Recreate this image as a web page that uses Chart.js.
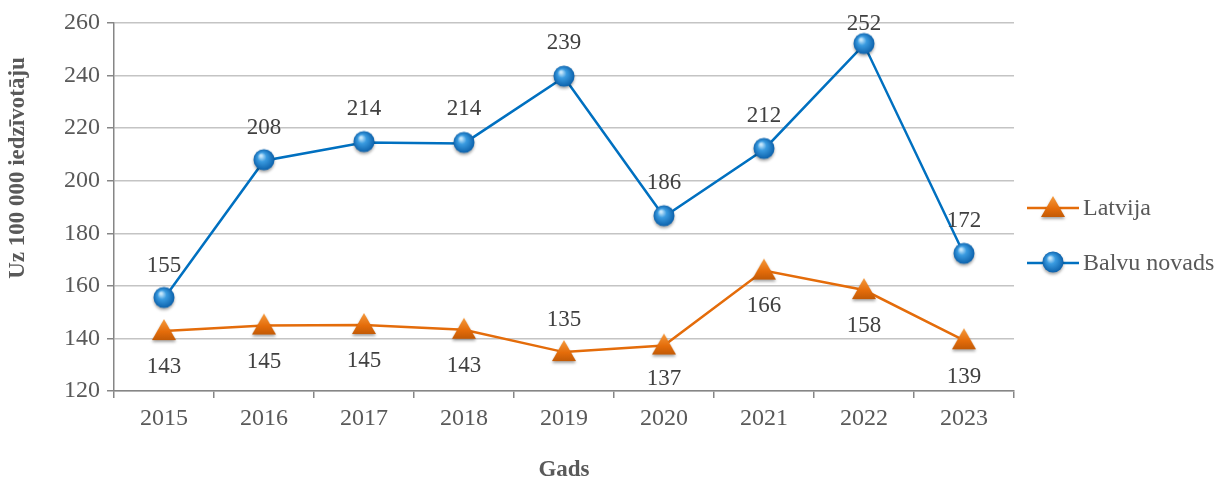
<!DOCTYPE html>
<html>
<head>
<meta charset="utf-8">
<script src="https://cdn.jsdelivr.net/npm/chart.js@4"></script>
<style>
  html, body { margin: 0; padding: 0; background: #fff; }
  #wrap { width: 1216px; height: 479px; }
</style>
</head>
<body>
<div id="wrap"><canvas id="myChart" width="1216" height="479"></canvas></div>
<script>
const years = ["2015", "2016", "2017", "2018", "2019", "2020", "2021", "2022", "2023"];
const latvija = [142.8, 144.9, 145.1, 143.3, 134.8, 137.3, 165.8, 158.4, 139.3];
const balvu = [155.2, 207.6, 214.5, 214.2, 239.4, 186.3, 211.9, 251.8, 172.0];
const latvijaLabels = [143, 145, 145, 143, 135, 137, 166, 158, 139];
const balvuLabels = [155, 208, 214, 214, 239, 186, 212, 252, 172];
const yTicks = [120, 140, 160, 180, 200, 220, 240, 260];

const FONT = "'Liberation Serif', 'Times New Roman', serif";
const TEXT = "#595959";

function makeSphere() {
    const c = document.createElement('canvas');
    c.width = 30; c.height = 30;
    const g = c.getContext('2d');
    g.shadowColor = 'rgba(0,0,0,0.35)';
    g.shadowBlur = 3;
    g.shadowOffsetY = 2;
    const grad = g.createRadialGradient(12, 10, 1, 15, 14, 11);
    grad.addColorStop(0, '#c4e6fb');
    grad.addColorStop(0.35, '#3a9be0');
    grad.addColorStop(1, '#0a5ea8');
    g.fillStyle = grad;
    g.beginPath();
    g.arc(15, 14, 10.5, 0, Math.PI * 2);
    g.fill();
    return c;
}

function makeTriangle() {
    const c = document.createElement('canvas');
    c.width = 30; c.height = 30;
    const g = c.getContext('2d');
    g.shadowColor = 'rgba(0,0,0,0.35)';
    g.shadowBlur = 3;
    g.shadowOffsetY = 2;
    const grad = g.createLinearGradient(0, 3, 0, 24);
    grad.addColorStop(0, '#f59a3c');
    grad.addColorStop(0.6, '#e46c0a');
    grad.addColorStop(1, '#c25a06');
    g.fillStyle = grad;
    g.beginPath();
    g.moveTo(15, 3);
    g.lineTo(27, 24);
    g.lineTo(3, 24);
    g.closePath();
    g.fill();
    return c;
}

const sphere = makeSphere();
const triangle = makeTriangle();

const valueLabels = {
    id: 'valueLabels',
    afterDatasetsDraw(chart) {
        const ctx = chart.ctx;
        ctx.save();
        ctx.font = "23px " + FONT;
        ctx.fillStyle = "#404040";
        ctx.textAlign = 'center';
        ctx.textBaseline = 'middle';
        const sets = [
            { idx: 0, labels: latvijaLabels, off: [36, 36, 36, 36, -32, 33, 35, 36, 37] },
            { idx: 1, labels: balvuLabels, off: [-33, -33, -34, -34, -34, -34, -33, -21, -33] }
        ];
        sets.forEach(s => {
            const meta = chart.getDatasetMeta(s.idx);
            meta.data.forEach((pt, i) => {
                ctx.fillText(String(s.labels[i]), pt.x, pt.y + s.off[i]);
            });
        });
        ctx.restore();
    }
};

const sideLegend = {
    id: 'sideLegend',
    afterDraw(chart) {
        const ctx = chart.ctx;
        ctx.save();
        const items = [
            { text: 'Latvija', color: '#e46c0a', img: triangle, y: 208 },
            { text: 'Balvu novads', color: '#0070c0', img: sphere, y: 263 }
        ];
        items.forEach(it => {
            ctx.strokeStyle = it.color;
            ctx.lineWidth = 2.5;
            ctx.beginPath();
            ctx.moveTo(1027, it.y);
            ctx.lineTo(1079, it.y);
            ctx.stroke();
            ctx.drawImage(it.img, 1053 - it.img.width / 2, it.y - it.img.height / 2);
            ctx.font = "24px " + FONT;
            ctx.fillStyle = TEXT;
            ctx.textAlign = 'left';
            ctx.textBaseline = 'middle';
            ctx.fillText(it.text, 1083, it.y + 1);
        });
        // y axis title
        ctx.translate(18, 168);
        ctx.rotate(-Math.PI / 2);
        ctx.font = "bold 23px " + FONT;
        ctx.fillStyle = TEXT;
        ctx.textAlign = 'center';
        ctx.textBaseline = 'middle';
        ctx.fillText('Uz 100 000 iedzīvotāju', 0, 0);
        ctx.restore();
    }
};

const chart = new Chart(document.getElementById('myChart'), {
    type: 'line',
    data: {
        labels: years,
        datasets: [
            {
                label: 'Latvija',
                data: latvija,
                borderColor: '#e46c0a',
                borderWidth: 2.5,
                pointStyle: triangle,
                pointRadius: 12,
                tension: 0
            },
            {
                label: 'Balvu novads',
                data: balvu,
                borderColor: '#0070c0',
                borderWidth: 2.5,
                pointStyle: sphere,
                pointRadius: 12,
                tension: 0
            }
        ]
    },
    options: {
        responsive: false,
        animation: false,
        layout: { padding: { left: 0, right: 202, top: 23, bottom: 0 } },
        plugins: {
            legend: { display: false },
            tooltip: { enabled: false }
        },
        scales: {
            x: {
                offset: true,
                grid: {
                    offset: true,
                    drawOnChartArea: false,
                    drawTicks: true,
                    tickLength: 7,
                    color: '#868686',
                    lineWidth: 1.5
                },
                border: { color: '#868686', width: 1.5 },
                ticks: {
                    color: TEXT,
                    font: { family: FONT, size: 24 },
                    padding: 6,
                    maxRotation: 0
                },
                title: {
                    display: true,
                    text: 'Gads',
                    color: TEXT,
                    font: { family: FONT, size: 23, weight: 'bold' },
                    padding: { top: 0, bottom: -5 }
                },
                afterFit(scale) { scale.height = 88; }
            },
            y: {
                min: 120,
                max: 260,
                afterBuildTicks(scale) { scale.ticks = yTicks.map(v => ({ value: v })); },
                grid: {
                    color: '#c4c4c4',
                    lineWidth: 1.5,
                    tickLength: 7,
                    tickColor: '#868686'
                },
                border: { color: '#868686', width: 1.5 },
                ticks: {
                    color: TEXT,
                    font: { family: FONT, size: 24 },
                    padding: 7
                },
                afterFit(scale) { scale.width = 114; }
            }
        }
    },
    plugins: [valueLabels, sideLegend]
});
</script>
</body>
</html>
